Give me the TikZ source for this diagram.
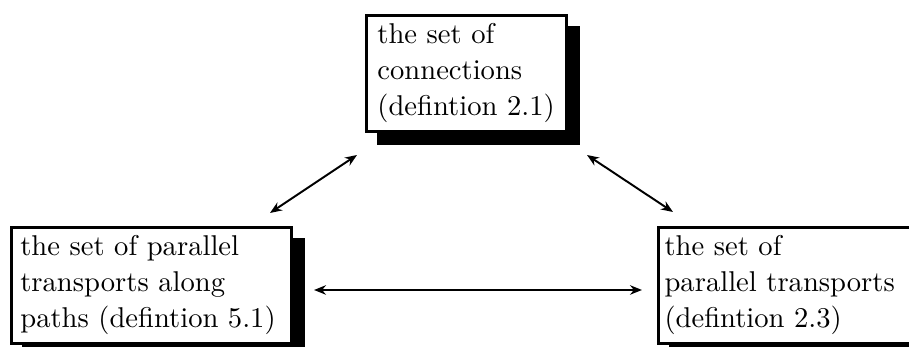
\documentclass[tikz,border=0pt]{standalone}
\usetikzlibrary{arrows.meta,calc}
\pgfdeclarelayer{bg}
\pgfsetlayers{bg,main}
\begin{document}
\begin{tikzpicture}[x=0.36pt,y=-0.36pt,
  box/.style={draw, line width=0.95pt, fill=white, anchor=north west, align=left,
    font=\fontsize{10.3}{13}\selectfont, inner ysep=0pt, minimum height=41.76pt},
  shadowfill/.style={fill=black},
  tip/.tip={Stealth[length=4.3pt,width=3.4pt]},
  conn/.style={tip-tip, line width=0.7pt}]
\clip (0,0) rectangle (909,347);
\node[box, minimum width=72pt, text width=64pt, inner xsep=4pt] (T) at (365,14)
  {the set of\\connections\\(defintion 2.1)};
\node[box, minimum width=100.8pt, text width=94.3pt, inner xsep=3.24pt] (L) at (10,226)
  {the set of parallel\\transports along\\paths (defintion 5.1)};
\node[box, minimum width=95pt, text width=90.5pt, inner xsep=2.16pt] (R) at (657,226)
  {the set of\\parallel transports\\(defintion 2.3)};
\begin{pgfonlayer}{bg}
  \foreach \n in {T,L,R}{
    \fill[shadowfill] ($(\n.north west)+(12,12)$) rectangle ($(\n.south east)+(12,12)$);
  }
\end{pgfonlayer}
\coordinate (a1) at (270,213);
\coordinate (b1) at (357,155);
\coordinate (a2) at (587,155);
\coordinate (b2) at (673,212);
\coordinate (a3) at (314,290);
\coordinate (b3) at (642,290);
\draw[conn] (a1) -- (b1);
\draw[conn] (a2) -- (b2);
\draw[conn, line width=0.9pt] (a3) -- (b3);
\end{tikzpicture}
\end{document}
